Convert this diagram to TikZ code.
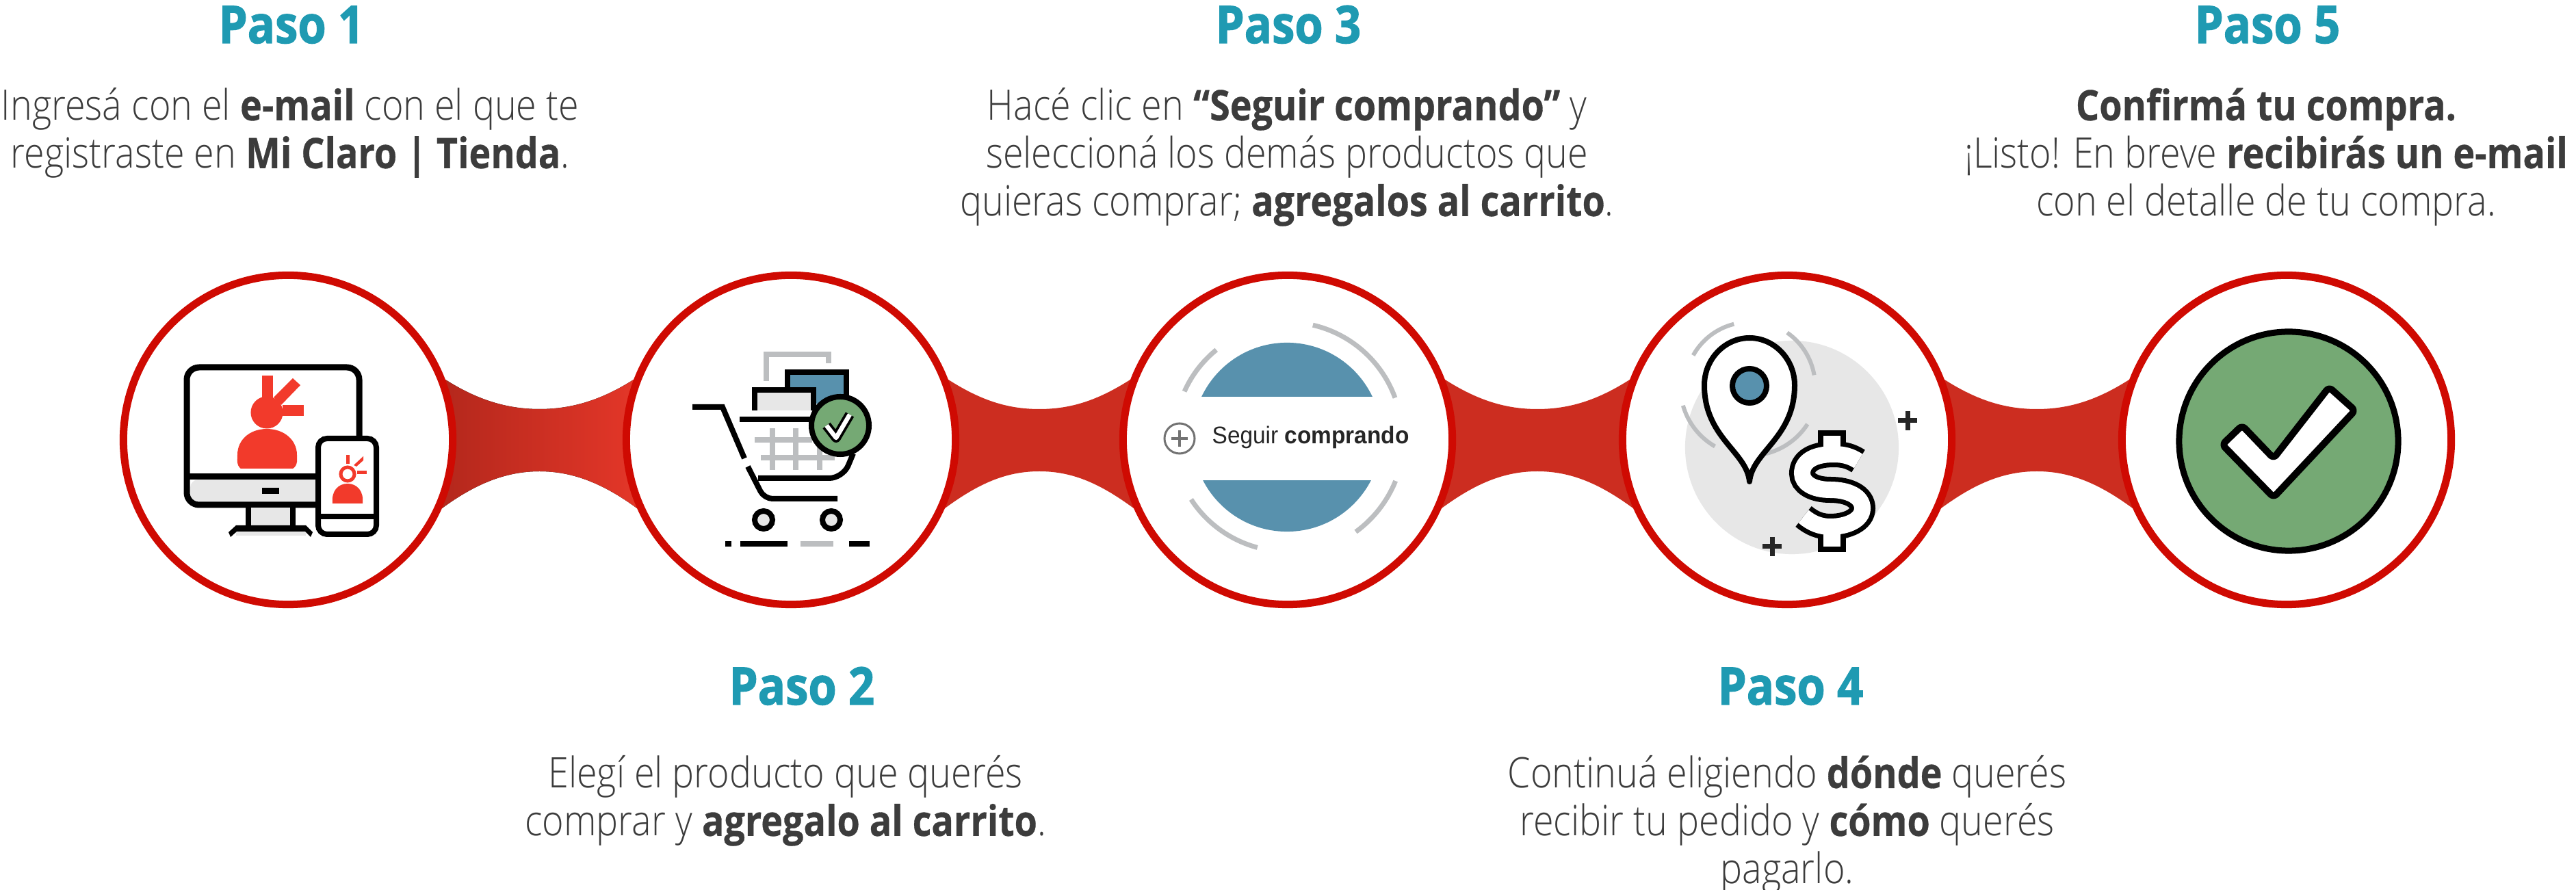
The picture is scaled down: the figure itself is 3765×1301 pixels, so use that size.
\documentclass[tikz,border=0pt]{standalone}
\usepackage{fontspec}
\setmainfont{Open Sans}[UprightFont=* Light,BoldFont=* Bold,BoldFeatures={FakeBold=.5},FakeStretch=.875]
\newfontfamily\botonfont{Liberation Sans}[FakeStretch=.95]
\newfontfamily\titulofont{Open Sans}[UprightFont=* Bold,FakeBold=1.6,FakeStretch=.88]
\usetikzlibrary{positioning}
\usetikzlibrary{calc}
\usetikzlibrary{backgrounds}
\definecolor{rojoaro}{HTML}{CF0A02}
\definecolor{rojopuente}{HTML}{CC2D20}
\definecolor{rojoicono}{HTML}{F23A2B}
\definecolor{turquesa}{HTML}{1F9AB2}
\definecolor{texto}{HTML}{3C3C3C}
\definecolor{azul}{HTML}{5891AD}
\definecolor{verde}{HTML}{75A974}
\definecolor{grisclaro}{HTML}{E7E7E7}
\definecolor{grismedio}{HTML}{BCBEC0}
\tikzset{
  paso/.style={circle,draw=rojoaro,fill=white,line width=.11cm,minimum size=4.81cm},
  titulo/.style={anchor=base,text=turquesa,font=\fontsize{21.6}{24}\selectfont\titulofont,inner sep=0pt},
  cuerpo/.style={anchor=north,align=center,text=texto,font=\fontsize{17.5}{19.9}\selectfont,inner sep=0pt},
  puente/.style={fill=rojopuente},
  puentegrad/.style={left color=rojopuente!88!black,middle color=rojoicono,right color=rojoicono!94!black},
  trazo/.style={line width=.08cm,draw=black},
  arco/.style={line width=.07cm,draw=grismedio},
}
\begin{document}
\begin{tikzpicture}[x=.01cm,y=-.01cm]
    \useasboundingbox (0,0) rectangle (3765,1301);
    % the five rings
    \node[paso] (paso1) at (421,643) {};
    \node[paso] (paso2) at (1156,643) {};
    \node[paso] (paso3) at (1882,643) {};
    \node[paso] (paso4) at (2612,643) {};
    \node[paso] (paso5) at (3342,643) {};
    \begin{scope}[on background layer]
    \foreach \a/\b/\estilo in {paso1/paso2/puentegrad,paso2/paso3/puente,paso3/paso4/puente,paso4/paso5/puente}
    \fill[\estilo] (\a.21) .. controls +(47,30) and +(-47,0) .. ($(\a)!.5!(\b)+(0,-45)$) .. controls +(47,0) and +(-47,30) .. (\b.159)
      -- (\b.204) .. controls +(-49,-36) and +(49,0) .. ($(\a)!.5!(\b)+(0,46)$) .. controls +(-49,0) and +(49,-36) .. (\a.-24) -- cycle;
    \end{scope}
    % titles and texts
    \node[titulo] (titulo1) at (426,63) {Paso 1};
    \node[titulo] (titulo2) at (1172,1030) {Paso 2};
    \node[titulo] (titulo3) at (1883,63) {Paso 3};
    \node[titulo] (titulo4) at (2617,1030) {Paso 4};
    \node[titulo] (titulo5) at (3314,63) {Paso 5};
    \node[cuerpo] (texto1) at (424,128) {Ingresá con el \textbf{e-mail} con el que te\\registraste en \textbf{Mi Claro | Tienda}.};
    \node[cuerpo] (texto2) at (1148,1104) {Elegí el producto que querés\\comprar y \textbf{agregalo al carrito}.};
    \node[cuerpo] (texto3) at (1881,128) {Hacé clic en \textbf{“Seguir comprando”} y\\seleccioná los demás productos que\\quieras comprar; \textbf{agregalos al carrito}.};
    \node[cuerpo] (texto4) at (2612,1104) {Continuá eligiendo \textbf{dónde} querés\\recibir tu pedido y \textbf{cómo} querés\\pagarlo.};
    \node[cuerpo] (texto5) at (3312,128) {\textbf{Confirmá tu compra.}\\¡Listo! En breve \textbf{recibirás un e-mail}\\con el detalle de tu compra.};
    % computer
    \draw[trazo,fill=white,line width=.09cm,rounded corners=.18cm] (273,537) rectangle (525,738);
    \fill[grisclaro,rounded corners=.12cm] (278,701) rectangle (520,733);
    \draw[trazo,line width=.09cm] (273,697) -- (525,697);
    \fill (383,713) rectangle (408,722);
    \draw[trazo,fill=grisclaro] (363,742) -- (363,772) -- (428,772) -- (428,742);
    \fill[grisclaro] (345,776) rectangle (447,783);
    \fill (345,768) -- (447,768) -- (457,778) -- (454,785) -- (446,777) -- (346,777) -- (337,785) -- (334,778) -- cycle;
    \fill[rojoicono] (390,603) circle[radius=.235cm];
    \fill[rojoicono] (352,685) .. controls (345,680) and (347,670) .. (347,665) .. controls (347,643) and (365,627) .. (390,627) .. controls (415,627) and (434,643) .. (434,665) .. controls (434,670) and (436,680) .. (428,685) -- cycle;
    \fill[rojoicono] (383,549) rectangle (399,582);
    \fill[rojoicono] (428,553) -- (439,563) -- (411,592) -- (400,581) -- cycle;
    \fill[rojoicono] (413,592) rectangle (444,608);
    % phone
    \draw[trazo,fill=white,rounded corners=.13cm] (465,641) rectangle (550,781);
    \draw[trazo] (465,755) -- (550,755);
    \draw[rojoicono,line width=.05cm] (508,693) circle[radius=.1cm];
    \fill[rojoicono] (486,736) .. controls (484,718) and (494,707) .. (508,707) .. controls (522,707) and (532,718) .. (530,736) -- cycle;
    \fill[rojoicono] (506,665) rectangle (511,678);
    \fill[rojoicono] (531,667) -- (531,673) -- (521,682) -- (517,680) -- cycle;
    \fill[rojoicono] (522,688) rectangle (536,693);
    % cart
    \draw[arco,line width=.08cm] (1120,557) -- (1120,518) -- (1211,518) -- (1211,531);
    \draw[trazo,fill=azul] (1151,590) -- (1151,544) -- (1237,544) -- (1237,590);
    \draw[trazo,fill=grisclaro] (1103,600) -- (1103,570) -- (1189,570) -- (1189,600);
    \fill[white] (1099,600) rectangle (1193,609);
    \draw[trazo] (1081,613) -- (1185,613);
    \foreach \x in {1129,1163,1198}
    \draw[arco,line width=.08cm] (\x,626) -- (\x,687);
    \draw[arco,line width=.08cm] (1103,643) -- (1187,643);
    \draw[arco,line width=.08cm] (1112,669) -- (1220,669);
    \draw[trazo] (1012,595) -- (1056,595) -- (1088,670);
    \draw[trazo,rounded corners=.12cm] (1093,682) -- (1117,729) -- (1224,729);
    \draw[trazo,rounded corners=.2cm] (1108,699) -- (1232,699) -- (1247,663);
    \draw[trazo,fill=verde] (1228,622) circle[radius=.42cm];
    \draw[line width=.14cm,line join=round] (1208,622) -- (1222,640) -- (1242,606);
    \draw[line width=.065cm,white,line join=round] (1208,622) -- (1222,640) -- (1242,606);
    \foreach \x in {1116,1215}
    \draw[trazo,fill=grisclaro] (\x,760) circle[radius=.13cm];
    \draw[trazo] (1060,795) -- (1069,795);
    \draw[trazo] (1082,795) -- (1151,795);
    \draw[arco,line width=.08cm] (1170,795) -- (1218,795);
    \draw[trazo] (1241,795) -- (1271,795);
    % button picture
    \begin{scope}
    \clip (1700,450) rectangle (2060,580);
    \fill[azul] (1881,639) circle[radius=1.38cm];
    \end{scope}
    \begin{scope}
    \clip (1700,703) rectangle (2060,800);
    \fill[azul] (1881,639) circle[radius=1.38cm];
    \end{scope}
    \foreach \desde/\hasta/\radio in {77/20/1.68,129/156/1.64,-22/-54/1.71,213/255/1.67}
    \draw[arco] ($(1881,639)+(\desde:\radio cm)$) arc[start angle=\desde,end angle=\hasta,radius=\radio cm];
    \draw[draw=black!55,line width=.03cm] (1724,641) circle[radius=.22cm];
    \draw[draw=black!55,line width=.04cm] (1712,641) -- (1736,641) (1724,629) -- (1724,653);
    \node[anchor=base west,inner sep=0pt,text=black!85,font=\fontsize{10}{12}\selectfont\botonfont] (boton) at (1771,649) {Seguir \textbf{comprando}};
    % pin and dollar
    \fill[grisclaro] (2619,654) circle[radius=1.56cm];
    \foreach \desde/\hasta/\radio in {104/151/.94,55/10/.96,196/240/1.01,-33/-77/1.01}
    \draw[arco,line width=.06cm] ($(2557,565)+(\desde:\radio cm)$) arc[start angle=\desde,end angle=\hasta,radius=\radio cm];
    \draw[trazo,fill=white,line join=round] (2557,704) .. controls (2553,660) and (2491,640) .. (2491,563) .. controls (2491,525) and (2521,494) .. (2557,494) .. controls (2593,494) and (2623,525) .. (2623,563) .. controls (2623,640) and (2561,660) .. (2557,704) -- cycle;
    \draw[trazo,fill=azul] (2557,564) circle[radius=.25cm];
    \draw[trazo,fill=white] (2661,633) rectangle (2694,655);
    \draw[trazo,fill=white] (2661,781) rectangle (2694,803);
    \draw[line width=.38cm] (2716,674) .. controls (2705,667) and (2695,664) .. (2680,664) .. controls (2650,664) and (2634,675) .. (2634,692) .. controls (2634,706) and (2650,716) .. (2675,716) .. controls (2702,716) and (2722,726) .. (2722,743) .. controls (2722,760) and (2700,770) .. (2675,770) .. controls (2660,770) and (2648,765) .. (2636,755);
    \fill[white] (2665,637) rectangle (2690,668);
    \fill[white] (2665,770) rectangle (2690,799);
    \draw[white,line width=.24cm] (2716,674) .. controls (2705,667) and (2695,664) .. (2680,664) .. controls (2650,664) and (2634,675) .. (2634,692) .. controls (2634,706) and (2650,716) .. (2675,716) .. controls (2702,716) and (2722,726) .. (2722,743) .. controls (2722,760) and (2700,770) .. (2675,770) .. controls (2660,770) and (2648,765) .. (2636,755);
    \foreach \x/\y in {2788/615,2590/799}
    \draw[draw=black!85,line width=.07cm] (\x-14,\y) -- (\x+14,\y) (\x,\y-14) -- (\x,\y+14);
    % check
    \draw[trazo,fill=verde,line width=.09cm] (3345,645) circle[radius=1.6cm];
    \draw[trazo,fill=white,line width=.1cm,rounded corners=.06cm,line join=round] (3323,670) -- (3404,566) -- (3442,600) -- (3323,727) -- (3248,650) -- (3277,622) -- cycle;
\end{tikzpicture}
\end{document}
